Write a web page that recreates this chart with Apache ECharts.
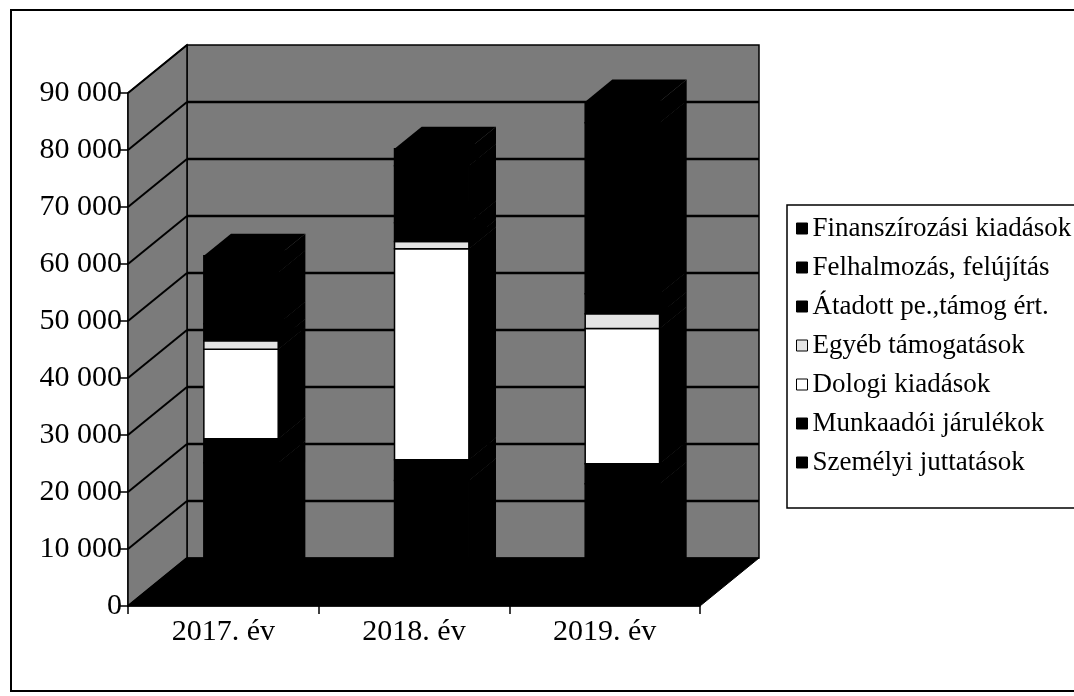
<!DOCTYPE html>
<html>
<head>
<meta charset="utf-8">
<script src="https://cdn.jsdelivr.net/npm/echarts@6/dist/echarts.min.js"></script>
<style>html,body{margin:0;padding:0;background:#fff}#c{width:1074px;height:696px}</style>
</head>
<body>
<div id="c"></div>
<script>
const categories = ['2017. év', '2018. év', '2019. év'];
const szemelyi = [22600, 19500, 18900];
const munkaadoi = [4200, 3650, 3550];
const dologi = [15700, 37000, 23700];
const egyeb = [1500, 1250, 2600];
const atadott = [3000, 3300, 3500];
const felhalmozas = [9000, 10000, 30000];
const finanszirozasi = [2900, 3000, 3700];
const yMin = 0, yMax = 90000, yStep = 10000;

const seriesDefs = [
  {name: 'Személyi juttatások', data: szemelyi, color: '#000000'},
  {name: 'Munkaadói járulékok', data: munkaadoi, color: '#000000'},
  {name: 'Dologi kiadások', data: dologi, color: '#ffffff'},
  {name: 'Egyéb támogatások', data: egyeb, color: '#e4e4e4'},
  {name: 'Átadott pe.,támog ért.', data: atadott, color: '#000000'},
  {name: 'Felhalmozás, felújítás', data: felhalmozas, color: '#000000'},
  {name: 'Finanszírozási kiadások', data: finanszirozasi, color: '#000000'}
];

const DX = 59, DY = -48;      // depth projection of the 3D box
const FRONT = 0.3, DEPTH = 0.46;
const WALL = '#7b7b7b';
const FONT = '"Liberation Serif", "Times New Roman", serif';

function renderWalls(params, api) {
  const band = api.size([1, 0])[0];
  const x0 = api.coord([0, 0])[0] - band / 2;
  const x1 = api.coord([categories.length - 1, 0])[0] + band / 2;
  const y0 = api.coord([0, yMin])[1];
  const y9 = api.coord([0, yMax])[1];
  const children = [];
  children.push({type: 'polygon', shape: {points: [[x0 + DX, y0 + DY], [x1 + DX, y0 + DY], [x1 + DX, y9 + DY], [x0 + DX, y9 + DY]]},
    style: {fill: WALL, stroke: '#000', lineWidth: 1.5}});
  children.push({type: 'polygon', shape: {points: [[x0, y0], [x0 + DX, y0 + DY], [x0 + DX, y9 + DY], [x0, y9]]},
    style: {fill: WALL, stroke: '#000', lineWidth: 1.5}});
  for (let v = yMin + yStep; v < yMax; v += yStep) {
    const y = api.coord([0, v])[1];
    children.push({type: 'line', shape: {x1: x0 + DX, y1: y + DY, x2: x1 + DX, y2: y + DY}, style: {stroke: '#000', lineWidth: 2.5}});
  }
  for (let v = yMin; v <= yMax; v += yStep) {
    const y = api.coord([0, v])[1];
    children.push({type: 'line', shape: {x1: x0, y1: y, x2: x0 + DX, y2: y + DY}, style: {stroke: '#000', lineWidth: 2}});
  }
  children.push({type: 'polygon', shape: {points: [[x0, y0], [x1, y0], [x1 + DX, y0 + DY], [x0 + DX, y0 + DY]]},
    style: {fill: '#000', stroke: '#000', lineWidth: 1}});
  return {type: 'group', children};
}

function renderSeg(params, api) {
  const i = api.value(0), b = api.value(1), t = api.value(2);
  if (!(t > b)) return null;
  const band = api.size([1, 0])[0];
  const BW = band * 0.39;
  const pb = api.coord([i, b]), pt = api.coord([i, t]);
  const cx = pb[0] + DX * FRONT;
  const yb = pb[1] + DY * FRONT, yt = pt[1] + DY * FRONT;
  const L = cx - BW / 2, R = cx + BW / 2;
  const sx = DX * DEPTH, sy = DY * DEPTH;
  return {type: 'group', children: [
    {type: 'polygon', shape: {points: [[R, yb], [R + sx, yb + sy], [R + sx, yt + sy], [R, yt]]}, style: {fill: '#000'}},
    {type: 'polygon', shape: {points: [[L, yt], [R, yt], [R + sx, yt + sy], [L + sx, yt + sy]]}, style: {fill: '#000'}},
    {type: 'rect', shape: {x: L, y: yt, width: BW, height: yb - yt}, style: {fill: api.visual('color'), stroke: '#000', lineWidth: 1.5}}
  ]};
}

const cum = categories.map(() => 0);
const barSeries = seriesDefs.map(s => {
  const data = s.data.map((v, i) => { const b = cum[i]; cum[i] += v; return [i, b, cum[i]]; });
  return {
    type: 'custom', name: s.name, z: 3, renderItem: renderSeg,
    itemStyle: {color: s.color, borderColor: '#000', borderWidth: 1},
    encode: {x: 0, y: [1, 2]}, data
  };
});

const chart = echarts.init(document.getElementById('c'), null, {renderer: 'canvas'});
chart.setOption({
  animation: false,
  backgroundColor: '#fff',
  graphic: [{type: 'rect', shape: {x: 11, y: 10, width: 1080, height: 681}, style: {fill: 'none', stroke: '#000', lineWidth: 2}, z: 100}],
  grid: {left: 128, right: 374, top: 93, bottom: 90, containLabel: false},
  xAxis: {
    type: 'category', data: categories, boundaryGap: true,
    axisLine: {show: true, lineStyle: {color: '#000', width: 1.5}},
    axisTick: {show: true, length: 8, lineStyle: {color: '#000', width: 1.5}},
    axisLabel: {color: '#000', fontFamily: FONT, fontSize: 30, margin: 11},
    splitLine: {show: false}
  },
  yAxis: {
    type: 'value', min: yMin, max: yMax, interval: yStep,
    axisLine: {show: true, lineStyle: {color: '#000', width: 1.5}},
    axisTick: {show: true, length: 8, lineStyle: {color: '#000', width: 1.5}},
    axisLabel: {color: '#000', fontFamily: FONT, fontSize: 30, margin: 6,
      formatter: v => String(v).replace(/\B(?=(\d{3})+(?!\d))/g, ' ')},
    splitLine: {show: false}
  },
  legend: {
    orient: 'vertical', left: 787, top: 205,
    itemWidth: 11, itemHeight: 11, itemGap: 12,
    padding: [10, 40, 32, 9],
    borderColor: '#000', borderWidth: 1.5, backgroundColor: '#fff',
    textStyle: {color: '#000', fontFamily: FONT, fontSize: 27, lineHeight: 27},
    data: seriesDefs.slice().reverse().map(s => ({name: s.name, icon: 'rect',
      itemStyle: {color: s.color, borderColor: '#000', borderWidth: 1}}))
  },
  series: [
    {type: 'custom', name: 'walls', z: 1, renderItem: renderWalls, data: [[0, 0]], encode: {x: 0, y: 1}, silent: true},
    ...barSeries
  ]
});
</script>
</body>
</html>
